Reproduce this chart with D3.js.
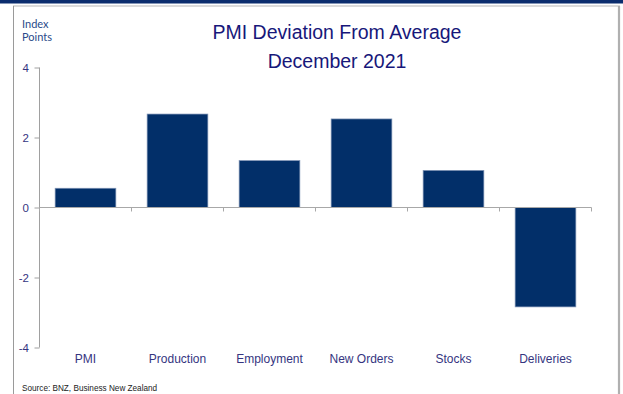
<!DOCTYPE html>
<html><head><meta charset="utf-8">
<script src="https://cdn.jsdelivr.net/npm/d3@7"></script>
<style>html,body{margin:0;padding:0;background:#fff;}svg{display:block;}</style>
</head><body>
<svg id="c" width="623" height="394"></svg>
<script>
const categories = ["PMI", "Production", "Employment", "New Orders", "Stocks", "Deliveries"];
const values = [0.55, 2.67, 1.34, 2.53, 1.06, -2.84];
const yTicks = [-4, -2, 0, 2, 4];
const titleLines = ["PMI Deviation From Average", "December 2021"];
const unitLines = ["Index", "Points"];
const sourceText = "Source: BNZ, Business New Zealand";

const svg = d3.select("#c");
const W = 623, H = 394;

// frame decorations
svg.append("rect").attr("x", 0).attr("y", 0).attr("width", W).attr("height", 3.5).attr("fill", "#0b2d6e");
svg.append("line").attr("x1", 13).attr("x2", 620).attr("y1", 6).attr("y2", 6).attr("stroke", "#b8b8b8").attr("stroke-width", 1.2);
svg.append("line").attr("x1", 13.5).attr("x2", 13.5).attr("y1", 6).attr("y2", H).attr("stroke", "#9a9a9a").attr("stroke-width", 1);
svg.append("line").attr("x1", 619).attr("x2", 619).attr("y1", 6).attr("y2", H).attr("stroke", "#b0b0b0").attr("stroke-width", 2.2);

const x0 = 39.5, x1 = 591.5;
const x = d3.scaleBand().domain(categories).range([x0, x1]).paddingInner(0.34).paddingOuter(0.17);
const y = d3.scaleLinear().domain([-4, 4]).range([347.5, 67.5]);

// bars
svg.append("g").selectAll("rect").data(values).join("rect")
  .attr("x", (d, i) => x(categories[i]))
  .attr("width", x.bandwidth())
  .attr("y", d => y(Math.max(0, d)))
  .attr("height", d => Math.abs(y(d) - y(0)))
  .attr("fill", "#022f69")
  .attr("stroke", "#7f93b5")
  .attr("stroke-width", 0.7);

// y axis
const yAxis = d3.axisLeft(y).tickValues(yTicks).tickSize(5).tickPadding(5.5).tickFormat(d => String(d));
const gy = svg.append("g").attr("transform", `translate(${x0},0)`).call(yAxis);
gy.select(".domain").attr("stroke", "#a0a0a0").attr("d", `M-0,${y(4)}V${y(-4)}`);
gy.selectAll(".tick line").attr("stroke", "#a0a0a0");
gy.selectAll(".tick text").attr("fill", "#35357f").attr("font-family", "Liberation Sans, Arial, sans-serif").attr("font-size", 11.5);

// x axis at zero, ticks at category boundaries
const step = x.step();
const boundaries = d3.range(categories.length + 1).map(i => x0 + i * step);
const gx = svg.append("g");
gx.append("line").attr("x1", x0).attr("x2", x1).attr("y1", y(0)).attr("y2", y(0)).attr("stroke", "#a8a8a8").attr("stroke-width", 1.2);
gx.selectAll("line.t").data(boundaries).join("line").attr("class", "t")
  .attr("x1", d => d).attr("x2", d => d).attr("y1", y(0)).attr("y2", y(0) + 4)
  .attr("stroke", "#a8a8a8").attr("stroke-width", 1);

// category labels
svg.append("g").selectAll("text").data(categories).join("text")
  .attr("x", d => x(d) + x.bandwidth() / 2)
  .attr("y", 363)
  .attr("text-anchor", "middle")
  .attr("fill", "#35357f")
  .attr("font-family", "Liberation Sans, Arial, sans-serif")
  .attr("font-size", 12)
  .text(d => d);

// title
svg.append("g").selectAll("text").data(titleLines).join("text")
  .attr("x", 337).attr("y", (d, i) => 39 + i * 28.5)
  .attr("text-anchor", "middle")
  .attr("fill", "#17177a")
  .attr("font-family", "Liberation Sans, Arial, sans-serif")
  .attr("font-size", 19.5)
  .text(d => d);

// units
svg.append("g").selectAll("text").data(unitLines).join("text")
  .attr("x", 22).attr("y", (d, i) => 27.5 + i * 13)
  .attr("fill", "#2a4a8a")
  .attr("font-family", "Lato, Open Sans, sans-serif")
  .attr("font-size", 11)
  .text(d => d);

// source
svg.append("text").attr("x", 22).attr("y", 391)
  .attr("fill", "#222")
  .attr("font-family", "Liberation Sans, Arial, sans-serif")
  .attr("font-size", 8.2)
  .text(sourceText);
</script>
</body></html>
